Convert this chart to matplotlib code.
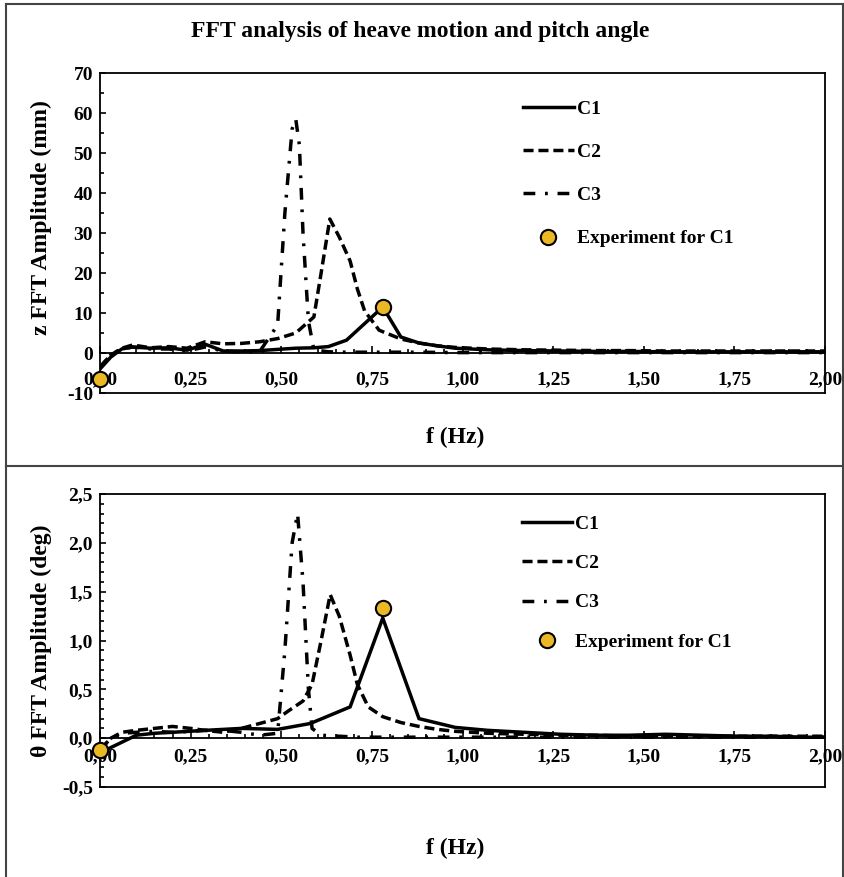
import matplotlib
matplotlib.use('Agg')
import matplotlib.pyplot as plt
from matplotlib.ticker import MultipleLocator, FuncFormatter
from matplotlib.lines import Line2D

plt.rcParams['font.family'] = ['Liberation Serif', 'DejaVu Serif']
plt.rcParams['font.weight'] = 'bold'

# ---- heave motion: z FFT amplitude (mm) ----
z_f_c1 = [0.00, 0.03, 0.06, 0.09, 0.14, 0.19, 0.24, 0.29, 0.34, 0.39, 0.44, 0.49, 0.54, 0.59,
          0.63, 0.68, 0.78, 0.83, 0.88, 0.93, 0.98, 1.07, 1.17, 1.27, 1.37, 1.46, 1.56, 1.66,
          1.76, 1.85, 1.95, 2.00]
z_c1 = [-4.0, -1.0, 1.0, 1.5, 1.2, 1.3, 0.7, 2.2, 0.5, 0.5, 0.6, 0.9, 1.2, 1.3,
        1.6, 3.2, 11.5, 4.0, 2.5, 1.8, 1.2, 0.8, 0.6, 0.5, 0.4, 0.4, 0.3, 0.3,
        0.3, 0.3, 0.3, 0.3]

z_f_c2 = [0.00, 0.03, 0.06, 0.09, 0.14, 0.19, 0.24, 0.29, 0.34, 0.39, 0.44, 0.49, 0.54, 0.59,
          0.61, 0.634, 0.66, 0.69, 0.71, 0.73, 0.77, 0.83, 0.88, 0.93, 0.98, 1.07, 1.17, 1.27,
          1.37, 1.46, 1.56, 1.66, 1.76, 1.85, 1.95, 2.00]
z_c2 = [-3.5, -0.5, 1.2, 2.0, 1.3, 1.6, 1.2, 2.8, 2.3, 2.4, 2.8, 3.6, 5.0, 9.0,
        20.0, 33.5, 29.0, 23.0, 16.0, 10.5, 5.7, 3.5, 2.5, 1.8, 1.4, 1.0, 0.8, 0.7,
        0.6, 0.6, 0.5, 0.5, 0.5, 0.5, 0.5, 0.5]

z_f_c3 = [0.00, 0.03, 0.06, 0.09, 0.14, 0.19, 0.24, 0.29, 0.34, 0.39, 0.44, 0.49, 0.51, 0.53,
          0.54, 0.55, 0.56, 0.575, 0.59, 0.63, 0.68, 0.78, 0.88, 0.98, 1.17, 1.37, 1.56, 1.76,
          1.95, 2.00]
z_c3 = [-3.5, -0.5, 1.0, 1.5, 1.0, 1.0, 0.5, 1.5, 0.5, 0.3, 0.3, 7.0, 35.0, 56.0,
        58.5, 52.0, 30.0, 8.0, 0.8, 0.3, 0.2, 0.2, 0.2, 0.1, 0.1, 0.1, 0.1, 0.1,
        0.1, 0.1]

z_exp_f = [0.00, 0.78]
z_exp = [-6.5, 11.5]

# ---- pitch angle: theta FFT amplitude (deg) ----
t_f_c1 = [0.00, 0.10, 0.15, 0.20, 0.29, 0.39, 0.49, 0.58, 0.69, 0.78, 0.88, 0.98, 1.07,
          1.17, 1.27, 1.37, 1.46, 1.56, 1.66, 1.76, 1.85, 1.95, 2.00]
t_c1 = [-0.15, 0.03, 0.05, 0.06, 0.08, 0.10, 0.09, 0.15, 0.32, 1.23, 0.20, 0.11, 0.08,
        0.06, 0.04, 0.03, 0.03, 0.04, 0.03, 0.02, 0.02, 0.01, 0.01]

t_f_c2 = [0.00, 0.03, 0.06, 0.10, 0.15, 0.20, 0.25, 0.29, 0.34, 0.39, 0.44, 0.49, 0.52,
          0.56, 0.585, 0.61, 0.635, 0.66, 0.69, 0.71, 0.74, 0.78, 0.83, 0.88, 0.93, 0.98,
          1.07, 1.17, 1.27, 1.37, 1.46, 1.56, 1.66, 1.76, 1.85, 1.95, 2.00]
t_c2 = [-0.12, 0.00, 0.06, 0.08, 0.10, 0.12, 0.10, 0.08, 0.06, 0.10, 0.15, 0.20, 0.28,
        0.38, 0.55, 1.00, 1.47, 1.25, 0.85, 0.55, 0.32, 0.22, 0.16, 0.12, 0.09, 0.07,
        0.05, 0.04, 0.03, 0.03, 0.02, 0.02, 0.02, 0.02, 0.02, 0.02, 0.02]

t_f_c3 = [0.00, 0.03, 0.06, 0.10, 0.15, 0.20, 0.25, 0.29, 0.34, 0.39, 0.44, 0.49, 0.51,
          0.53, 0.545, 0.56, 0.575, 0.585, 0.61, 0.66, 0.71, 0.78, 0.98, 1.27, 1.56, 1.85,
          2.00]
t_c3 = [-0.12, 0.00, 0.05, 0.06, 0.07, 0.06, 0.07, 0.08, 0.08, 0.06, 0.03, 0.05, 0.90,
        2.00, 2.30, 1.60, 0.50, 0.10, 0.03, 0.02, 0.01, 0.01, 0.01, 0.01, 0.01, 0.01,
        0.01]

t_exp_f = [0.00, 0.78]
t_exp = [-0.12, 1.33]

series_labels = ['C1', 'C2', 'C3']
exp_label = 'Experiment for C1'

# line styles: solid, dashed, long dash-dot
styles = ['-', (0, (2.9, 1.4)), (0, (3.4, 2.8, 0.8, 2.8))]
gold = '#E9B824'

fig = plt.figure(figsize=(8.45, 8.77), dpi=100)
W, H = 845, 877


def comma(fmt):
    return FuncFormatter(lambda v, p: (fmt % (v + 0.0)).replace('.', ','))


def draw_panel(rect, curves, exp_f, exp_v, ylim, ymaj, ymin, yfmt, ylabel,
               ylab_y, xlab_y, xpad, leg_anchor, leg_space):
    ax = fig.add_axes(rect)
    for (f, v), ls, lab in zip(curves, styles, series_labels):
        ax.plot(f, v, color='black', lw=2.5, linestyle=ls, label=lab,
                solid_joinstyle='miter')
    ax.plot(exp_f, exp_v, 'o', color=gold, markeredgecolor='black', markeredgewidth=1.5,
            markersize=11, label=exp_label, clip_on=False, zorder=5)

    ax.set_xlim(0, 2)
    ax.set_ylim(*ylim)
    ax.xaxis.set_major_locator(MultipleLocator(0.25))
    ax.xaxis.set_minor_locator(MultipleLocator(0.05))
    ax.yaxis.set_major_locator(MultipleLocator(ymaj))
    ax.yaxis.set_minor_locator(MultipleLocator(ymin))
    ax.xaxis.set_major_formatter(comma('%.2f'))
    ax.yaxis.set_major_formatter(comma(yfmt))

    # horizontal axis crosses at zero, box border kept at the bottom
    ax.spines['bottom'].set_position(('data', 0))
    ax.plot([0, 1], [0, 0], transform=ax.transAxes, color='black', lw=1.3, clip_on=False)
    for s in ax.spines.values():
        s.set_linewidth(1.3)

    ax.tick_params(axis='both', which='both', direction='in', labelsize=14, width=1.2)
    ax.tick_params(axis='x', which='major', length=5, pad=xpad)
    ax.tick_params(axis='x', which='minor', length=3)
    ax.tick_params(axis='y', which='major', length=4, pad=5)
    ax.tick_params(axis='y', which='minor', length=3)

    ax.set_ylabel(ylabel, fontsize=17, fontweight='bold')
    ax.yaxis.set_label_coords(-0.066, ylab_y)
    ax.set_xlabel('f (Hz)', fontsize=17, fontweight='bold', va='center')
    ax.xaxis.set_label_coords(0.49, xlab_y)

    ax.legend(loc='upper left', bbox_to_anchor=leg_anchor, frameon=False, fontsize=14,
              handlelength=2.6, handletextpad=0.15, labelspacing=leg_space, borderaxespad=0)
    return ax


top = [100 / W, 1 - 393 / H, 725 / W, 320 / H]
bot = [100 / W, 1 - 787 / H, 725 / W, 293 / H]

draw_panel(top, [(z_f_c1, z_c1), (z_f_c2, z_c2), (z_f_c3, z_c3)], z_exp_f, z_exp,
           (-10, 70), 10, 5, '%.0f', 'z FFT Amplitude (mm)', 0.547, -0.14, 13,
           (0.573, 0.94), 1.32)
draw_panel(bot, [(t_f_c1, t_c1), (t_f_c2, t_c2), (t_f_c3, t_c3)], t_exp_f, t_exp,
           (-0.5, 2.5), 0.5, 0.1, '%.1f', 'θ FFT Amplitude (deg)', 0.5, -0.21, 7,
           (0.571, 0.955), 1.12)

fig.text(420 / W, 1 - 32 / H, 'FFT analysis of heave motion and pitch angle',
         ha='center', va='center', fontsize=17, fontweight='bold')

# outer frame and divider between the two charts
for xs, ys in [([6, 6], [4, 877]), ([843, 843], [4, 877]), ([6, 843], [4, 4]),
               ([6, 843], [466, 466])]:
    fig.add_artist(Line2D([x / W for x in xs], [1 - y / H for y in ys],
                          color='#444444', lw=1.5))

fig.savefig('out.png', dpi=100)
